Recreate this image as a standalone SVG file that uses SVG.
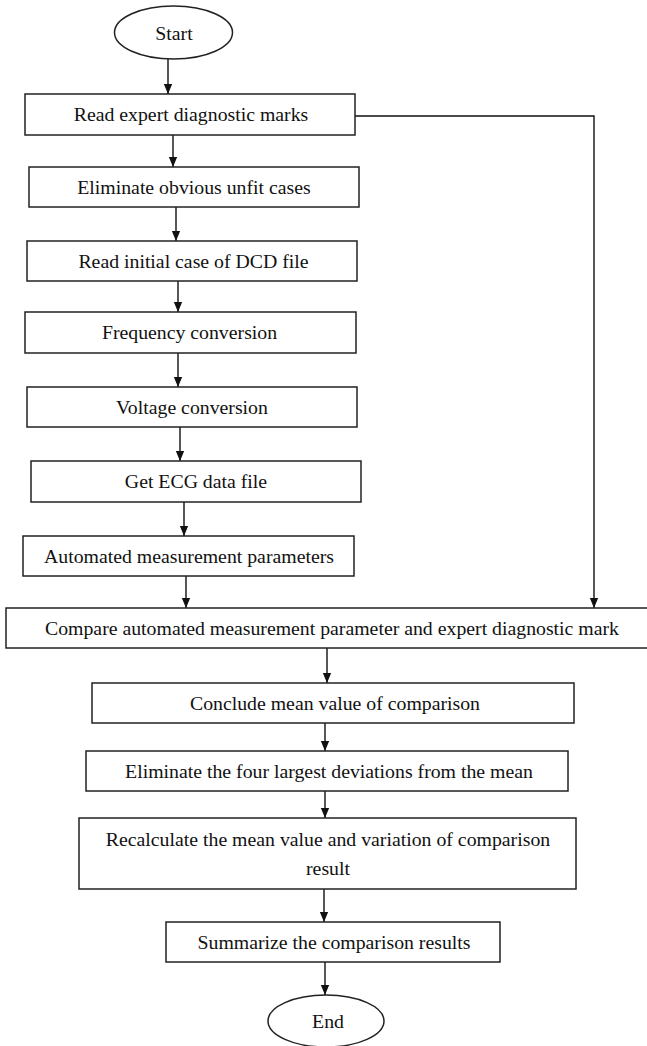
<svg xmlns="http://www.w3.org/2000/svg" width="647" height="1046" viewBox="0 0 647 1046">
<style>
.box{fill:#fff;stroke:#222;stroke-width:1.5}
.t{font-family:"Liberation Serif","Times New Roman",serif;font-size:19.8px;fill:#111;text-anchor:middle}
.c{fill:none;stroke:#111;stroke-width:1.4}
</style>
<defs>
<marker id="ah" markerUnits="userSpaceOnUse" markerWidth="10" markerHeight="12" refX="12" refY="5" orient="auto" viewBox="0 0 12 10">
<path d="M0,0 L12,5 L0,10 z" fill="#111"/>
</marker>
</defs>
<rect width="647" height="1046" fill="#fff"/>
<g id="connectors">
<line class="c" x1="168" y1="59" x2="168" y2="94" marker-end="url(#ah)"/>
<line class="c" x1="173" y1="135" x2="173" y2="167" marker-end="url(#ah)"/>
<line class="c" x1="176" y1="207" x2="176" y2="241" marker-end="url(#ah)"/>
<line class="c" x1="178" y1="281" x2="178" y2="312" marker-end="url(#ah)"/>
<line class="c" x1="178" y1="353" x2="178" y2="387" marker-end="url(#ah)"/>
<line class="c" x1="180" y1="427" x2="180" y2="461" marker-end="url(#ah)"/>
<line class="c" x1="184" y1="502" x2="184" y2="536" marker-end="url(#ah)"/>
<line class="c" x1="186" y1="576" x2="186" y2="608" marker-end="url(#ah)"/>
<polyline class="c" points="355,116 594,116 594,608" marker-end="url(#ah)"/>
<line class="c" x1="327" y1="648" x2="327" y2="683" marker-end="url(#ah)"/>
<line class="c" x1="325" y1="723" x2="325" y2="751" marker-end="url(#ah)"/>
<line class="c" x1="325" y1="791" x2="325" y2="818" marker-end="url(#ah)"/>
<line class="c" x1="324" y1="889" x2="324" y2="922" marker-end="url(#ah)"/>
<line class="c" x1="325" y1="962" x2="325" y2="995" marker-end="url(#ah)"/>
</g>
<g id="start">
<ellipse class="box" cx="173.5" cy="32.5" rx="59" ry="26.5"/>
<text class="t" x="174" y="39.5">Start</text>
</g>
<g id="read-marks">
<rect class="box" x="25" y="94" width="330" height="41"/>
<text class="t" x="191" y="121">Read expert diagnostic marks</text>
</g>
<g id="eliminate-unfit">
<rect class="box" x="29" y="167" width="330" height="40"/>
<text class="t" x="194" y="193.5">Eliminate obvious unfit cases</text>
</g>
<g id="read-dcd">
<rect class="box" x="27" y="241" width="330" height="40"/>
<text class="t" x="193.5" y="267.5">Read initial case of DCD file</text>
</g>
<g id="frequency">
<rect class="box" x="25" y="312" width="331" height="41"/>
<text class="t" x="189.5" y="339">Frequency conversion</text>
</g>
<g id="voltage">
<rect class="box" x="27" y="387" width="330" height="40"/>
<text class="t" x="192" y="413.5">Voltage conversion</text>
</g>
<g id="ecg">
<rect class="box" x="31" y="461" width="330" height="41"/>
<text class="t" x="196" y="488">Get ECG data file</text>
</g>
<g id="automated">
<rect class="box" x="23" y="536" width="331" height="40"/>
<text class="t" x="189" y="562.5">Automated measurement parameters</text>
</g>
<g id="compare">
<rect class="box" x="6" y="608" width="646" height="40"/>
<text class="t" x="332" y="634.5">Compare automated measurement parameter and expert diagnostic mark</text>
</g>
<g id="conclude">
<rect class="box" x="92" y="683" width="482" height="40"/>
<text class="t" x="335" y="709.5">Conclude mean value of comparison</text>
</g>
<g id="eliminate-four">
<rect class="box" x="86" y="751" width="482" height="40"/>
<text class="t" x="329" y="777.5">Eliminate the four largest deviations from the mean</text>
</g>
<g id="recalculate">
<rect class="box" x="79" y="818" width="497" height="71"/>
<text class="t" x="328" y="845.5">Recalculate the mean value and variation of comparison</text>
<text class="t" x="328" y="874.5">result</text>
</g>
<g id="summarize">
<rect class="box" x="166" y="922" width="334" height="40"/>
<text class="t" x="334" y="948.5">Summarize the comparison results</text>
</g>
<g id="end">
<ellipse class="box" cx="326" cy="1021" rx="58" ry="26"/>
<text class="t" x="328" y="1027.5">End</text>
</g>
</svg>
